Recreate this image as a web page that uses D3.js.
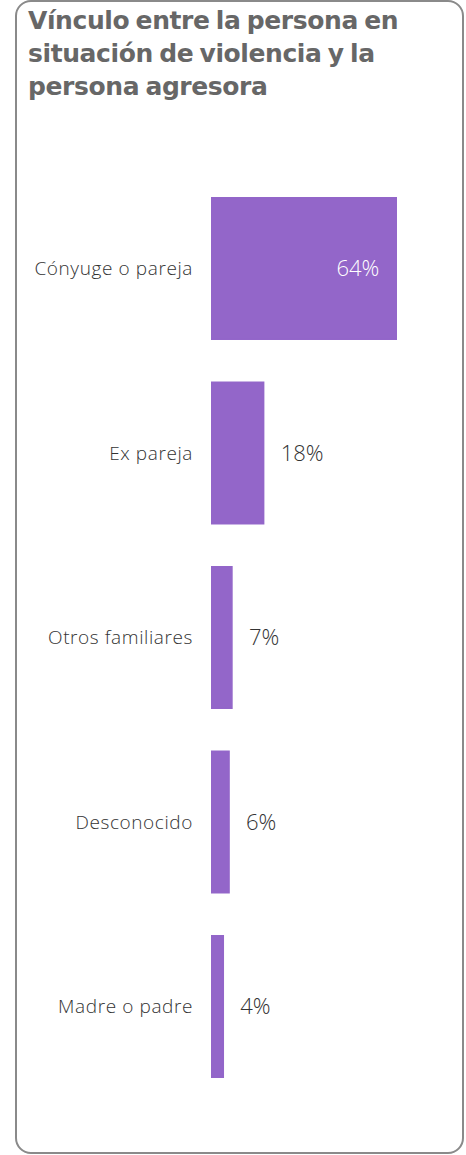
<!DOCTYPE html>
<html>
<head>
<meta charset="utf-8">
<script src="https://cdn.jsdelivr.net/npm/d3@7"></script>
<style>
  html, body { margin: 0; padding: 0; background: #fff; }
  svg { display: block; }
</style>
</head>
<body>
<svg id="chart" width="466" height="1155"></svg>
<script>
const titleLines = ["Vínculo entre la persona en", "situación de violencia y la", "persona agresora"];
const categories = ["Cónyuge o pareja", "Ex pareja", "Otros familiares", "Desconocido", "Madre o padre"];
const values = [64, 18, 7, 6, 4];
const valueLabels = ["64%", "18%", "7%", "6%", "4%"];

const svg = d3.select("#chart");
const barColor = "#9366c9";

svg.append("rect")
  .attr("x", 16).attr("y", 1)
  .attr("width", 447).attr("height", 1152)
  .attr("rx", 15).attr("ry", 15)
  .attr("fill", "#fff")
  .attr("stroke", "#8a8a8a")
  .attr("stroke-width", 2);

svg.append("g").selectAll("text")
  .data(titleLines)
  .join("text")
  .attr("x", 28)
  .attr("y", (d, i) => 29 + i * 33)
  .attr("fill", "#676767")
  .attr("font-family", "'DejaVu Sans', sans-serif")
  .attr("font-weight", 700)
  .attr("font-size", 25)
  .attr("letter-spacing", -0.4)
  .attr("word-spacing", -2)
  .text(d => d);

const x = d3.scaleLinear().domain([0, 64]).range([0, 184.5]);
const y = d3.scaleBand().domain(categories).range([176.25, 1098.75])
  .paddingInner(0.225).paddingOuter(0.1125);
const x0 = 211.75;

const g = svg.append("g");
const data = categories.map((c, i) => ({ c, v: values[i], l: valueLabels[i] }));

g.selectAll("rect.bar")
  .data(data)
  .join("rect")
  .attr("class", "bar")
  .attr("x", x0)
  .attr("y", d => y(d.c) + 0.75)
  .attr("width", d => x(d.v))
  .attr("height", y.bandwidth() - 1.5)
  .attr("fill", barColor)
  .attr("stroke", barColor)
  .attr("stroke-width", 1.5);

g.selectAll("text.cat")
  .data(data)
  .join("text")
  .attr("class", "cat")
  .attr("x", 193)
  .attr("y", d => y(d.c) + y.bandwidth() / 2)
  .attr("dy", "0.36em")
  .attr("text-anchor", "end")
  .attr("fill", "#333")
  .attr("font-family", "'Open Sans', sans-serif")
  .attr("font-weight", 300)
  .attr("font-size", 19)
  .attr("letter-spacing", 0.6)
  .text(d => d.c);

g.selectAll("text.val")
  .data(data)
  .join("text")
  .attr("class", "val")
  .attr("x", d => d.v > 30 ? x0 + x(d.v) - 17 : x0 + x(d.v) + 17)
  .attr("y", d => y(d.c) + y.bandwidth() / 2)
  .attr("dy", "0.36em")
  .attr("text-anchor", d => d.v > 30 ? "end" : "start")
  .attr("fill", d => d.v > 30 ? "#fff" : "#333")
  .attr("font-family", "'Open Sans', sans-serif")
  .attr("font-weight", 300)
  .attr("font-size", 22)
  .text(d => d.l);
</script>
</body>
</html>
